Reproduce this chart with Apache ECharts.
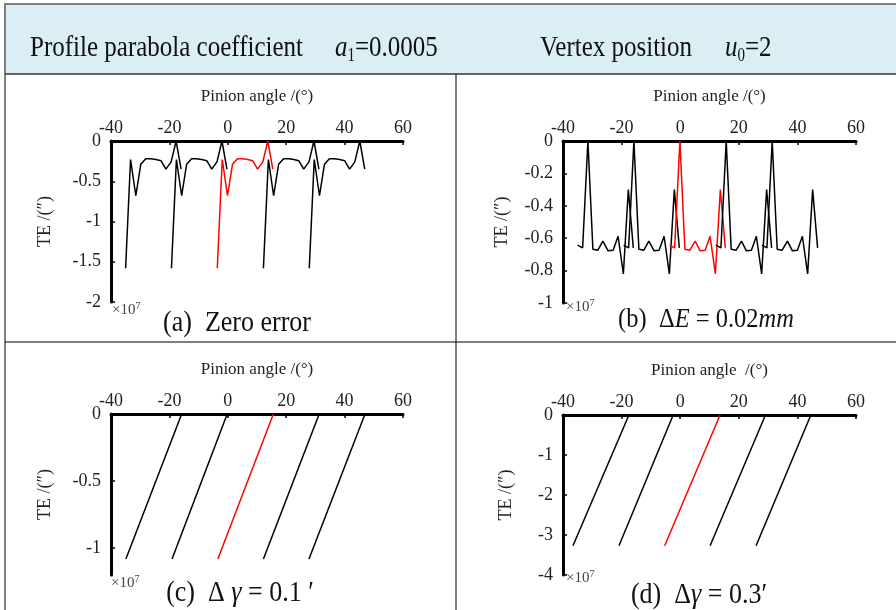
<!DOCTYPE html>
<html>
<head>
<meta charset="utf-8">
<title>TE with profile parabola coefficient</title>
<script src="https://cdn.jsdelivr.net/npm/echarts@6.0.0/dist/echarts.min.js"></script>
<style>
  html, body { margin: 0; padding: 0; background: #fff; }
  #chart { width: 896px; height: 610px; }
</style>
</head>
<body>
<div id="chart"></div>
<script>
// tick labels
const angleTicks = [-40, -20, 0, 20, 40, 60];
const teTicksA = [0, -0.5, -1, -1.5, -2];
const teTicksB = [0, -0.2, -0.4, -0.6, -0.8, -1];
const teTicksC = [0, -0.5, -1];
const teTicksD = [0, -1, -2, -3, -4];

// pinion angle of the sampled points, one array per meshing cycle (panels a, b)
const cycleAngle1 = [-35.0, -33.3, -31.5, -29.8, -28.1, -26.4, -24.6, -22.9, -21.2, -19.4, -17.7, -16.0];
const cycleAngle2 = [-19.3, -17.6, -15.8, -14.1, -12.4, -10.7, -8.9, -7.2, -5.5, -3.7, -2.0, -0.3];
const cycleAngle3 = [-3.6, -1.9, -0.1, 1.6, 3.3, 5.1, 6.8, 8.5, 10.2, 12.0, 13.7, 15.4];
const cycleAngle4 = [12.2, 13.9, 15.7, 17.4, 19.1, 20.9, 22.6, 24.3, 26.0, 27.8, 29.5, 31.2];
const cycleAngle5 = [27.9, 29.6, 31.4, 33.1, 34.8, 36.6, 38.3, 40.0, 41.7, 43.5, 45.2, 46.9];

// TE of one cycle (x1e-7)
const teZeroError = [-1.58, -0.23, -0.68, -0.29, -0.22, -0.22, -0.23, -0.245, -0.35, -0.26, 0, -0.35];
const teDeltaE = [-0.643, -0.66, 0, -0.668, -0.674, -0.618, -0.678, -0.674, -0.588, -0.82, -0.30, -0.66];

// panels c, d: start / end angle of each cycle
const angleGamma01 = [[-34.9, -15.8], [-19.1, -0.2], [-3.4, 15.6], [12.2, 31.3], [27.8, 47.0]];
const teGamma01 = [-1.08, 0];
const angleGamma03 = [[-36.6, -17.5], [-20.9, -2.4], [-5.3, 13.6], [10.2, 29.1], [25.9, 44.6]];
const teGamma03 = [-3.27, 0];

const FONT = "'Liberation Serif', 'Times New Roman', serif";
const cyclesAB = [cycleAngle1, cycleAngle2, cycleAngle3, cycleAngle4, cycleAngle5];

const panels = [
  { grid: { left: 111, top: 141, width: 292, height: 161 }, yMin: -2, yTicks: teTicksA, nameGap: 57,
    xs: cyclesAB, ys: teZeroError, xName: 'Pinion angle /(°)' },
  { grid: { left: 563, top: 141, width: 293, height: 162 }, yMin: -1, yTicks: teTicksB, nameGap: 52,
    xs: cyclesAB, ys: teDeltaE, xName: 'Pinion angle /(°)' },
  { grid: { left: 111, top: 414, width: 292, height: 161 }, yMin: -1.2, yTicks: teTicksC, nameGap: 57,
    xs: angleGamma01, ys: teGamma01, xName: 'Pinion angle /(°)' },
  { grid: { left: 563, top: 415, width: 293, height: 160 }, yMin: -4, yTicks: teTicksD, nameGap: 48,
    xs: angleGamma03, ys: teGamma03, xName: 'Pinion angle  /(°)' }
];

const grids = [], xAxes = [], yAxes = [], series = [];
panels.forEach((p, i) => {
  grids.push(Object.assign({ containLabel: false }, p.grid));
  xAxes.push({
    gridIndex: i, type: 'value', position: 'top',
    min: angleTicks[0], max: angleTicks[angleTicks.length - 1], interval: angleTicks[1] - angleTicks[0],
    name: p.xName, nameLocation: 'middle', nameGap: 36,
    nameTextStyle: { fontFamily: FONT, fontSize: 17, color: '#222' },
    axisLine: { onZero: false, lineStyle: { color: '#000', width: 3 } },
    axisTick: { inside: true, length: 4, lineStyle: { color: '#000', width: 1.5 } },
    axisLabel: { margin: 4, fontFamily: FONT, fontSize: 18, color: '#222' },
    splitLine: { show: false }
  });
  yAxes.push({
    gridIndex: i, type: 'value', min: p.yMin, max: 0,
    name: 'TE /(″)', nameLocation: 'middle', nameRotate: 90, nameGap: p.nameGap,
    nameTextStyle: { fontFamily: FONT, fontSize: 18, color: '#222' },
    axisLine: { onZero: false, lineStyle: { color: '#000', width: 3 } },
    axisTick: { inside: true, length: 4, customValues: p.yTicks, lineStyle: { color: '#000', width: 1.5 } },
    axisLabel: { customValues: p.yTicks, margin: 10, fontFamily: FONT, fontSize: 18, color: '#222' },
    splitLine: { show: false }
  });
  p.xs.forEach((xArr, k) => {
    series.push({
      type: 'line', xAxisIndex: i, yAxisIndex: i, symbol: 'none', silent: true,
      data: xArr.map((x, j) => [x, p.ys[j]]),
      lineStyle: { color: k === 2 ? '#ff0000' : '#000', width: 1.5 }
    });
  });
});

// text placed at (x, y), optionally stretched vertically like the scanned figure
function txt(x, y, text, opts, sy) {
  return {
    type: 'text', silent: true, x: x, y: y, scaleY: sy || 1,
    style: Object.assign({
      x: 0, y: 0, text: text, fill: '#111',
      font: '25px ' + FONT, textAlign: 'left', textVerticalAlign: 'middle'
    }, opts || {})
  };
}

const subRich = {
  i: { fontFamily: FONT, fontSize: 25, fontStyle: 'italic', lineHeight: 28 },
  s: { fontFamily: FONT, fontSize: 15, lineHeight: 10, verticalAlign: 'bottom' },
  n: { fontFamily: FONT, fontSize: 25, lineHeight: 28 }
};
const supRich = {
  n: { fontFamily: FONT, fontSize: 15, lineHeight: 18, fill: '#444' },
  p: { fontFamily: FONT, fontSize: 10, lineHeight: 10, verticalAlign: 'top', fill: '#444' }
};
function capRich(size) {
  return {
    n: { fontFamily: FONT, fontSize: size, lineHeight: 28 },
    i: { fontFamily: FONT, fontSize: size, fontStyle: 'italic', lineHeight: 28 }
  };
}

const graphic = [
  { type: 'rect', silent: true, z: -10, shape: { x: 5, y: 4, width: 891, height: 70 }, style: { fill: '#DAEEF3' } },
  { type: 'line', silent: true, shape: { x1: 4, y1: 4, x2: 896, y2: 4 }, style: { stroke: '#7f7f7f', lineWidth: 2 } },
  { type: 'line', silent: true, shape: { x1: 5, y1: 4, x2: 5, y2: 610 }, style: { stroke: '#7f7f7f', lineWidth: 2 } },
  { type: 'line', silent: true, shape: { x1: 5, y1: 74, x2: 896, y2: 74 }, style: { stroke: '#333', lineWidth: 1.5 } },
  { type: 'line', silent: true, shape: { x1: 456, y1: 74, x2: 456, y2: 610 }, style: { stroke: '#000', lineWidth: 1 } },
  { type: 'line', silent: true, shape: { x1: 5, y1: 342, x2: 896, y2: 342 }, style: { stroke: '#000', lineWidth: 1 } },

  txt(30, 48, 'Profile parabola coefficient', null, 1.2),
  txt(335, 48, '{i|a}{s|1}{n|=0.0005}', { rich: subRich }, 1.2),
  txt(540, 48, 'Vertex position', null, 1.2),
  txt(725, 48, '{i|u}{s|0}{n|=2}', { rich: subRich }, 1.2),

  txt(112, 310, '{n|×10}{p|7}', { rich: supRich }),
  txt(566, 307, '{n|×10}{p|7}', { rich: supRich }),
  txt(111, 583, '{n|×10}{p|7}', { rich: supRich }),
  txt(566, 578, '{n|×10}{p|7}', { rich: supRich }),

  txt(237, 323, '{n|(a)  Zero error}', { rich: capRich(26), textAlign: 'center' }, 1.1),
  txt(706, 320, '{n|(b)  Δ}{i|E}{n| = 0.02}{i|mm}', { rich: capRich(24.5), textAlign: 'center' }, 1.1),
  txt(240, 593, '{n|(c)  Δ }{i|γ}{n| = 0.1 ′}', { rich: capRich(26), textAlign: 'center' }, 1.1),
  txt(699, 595, '{n|(d)  Δ}{i|γ}{n| = 0.3′}', { rich: capRich(26), textAlign: 'center' }, 1.1)
];

const chart = echarts.init(document.getElementById('chart'), null, { renderer: 'canvas' });
chart.setOption({
  animation: false,
  backgroundColor: '#fff',
  grid: grids,
  xAxis: xAxes,
  yAxis: yAxes,
  series: series,
  graphic: graphic
});
window.addEventListener('resize', () => chart.resize());
</script>
</body>
</html>
